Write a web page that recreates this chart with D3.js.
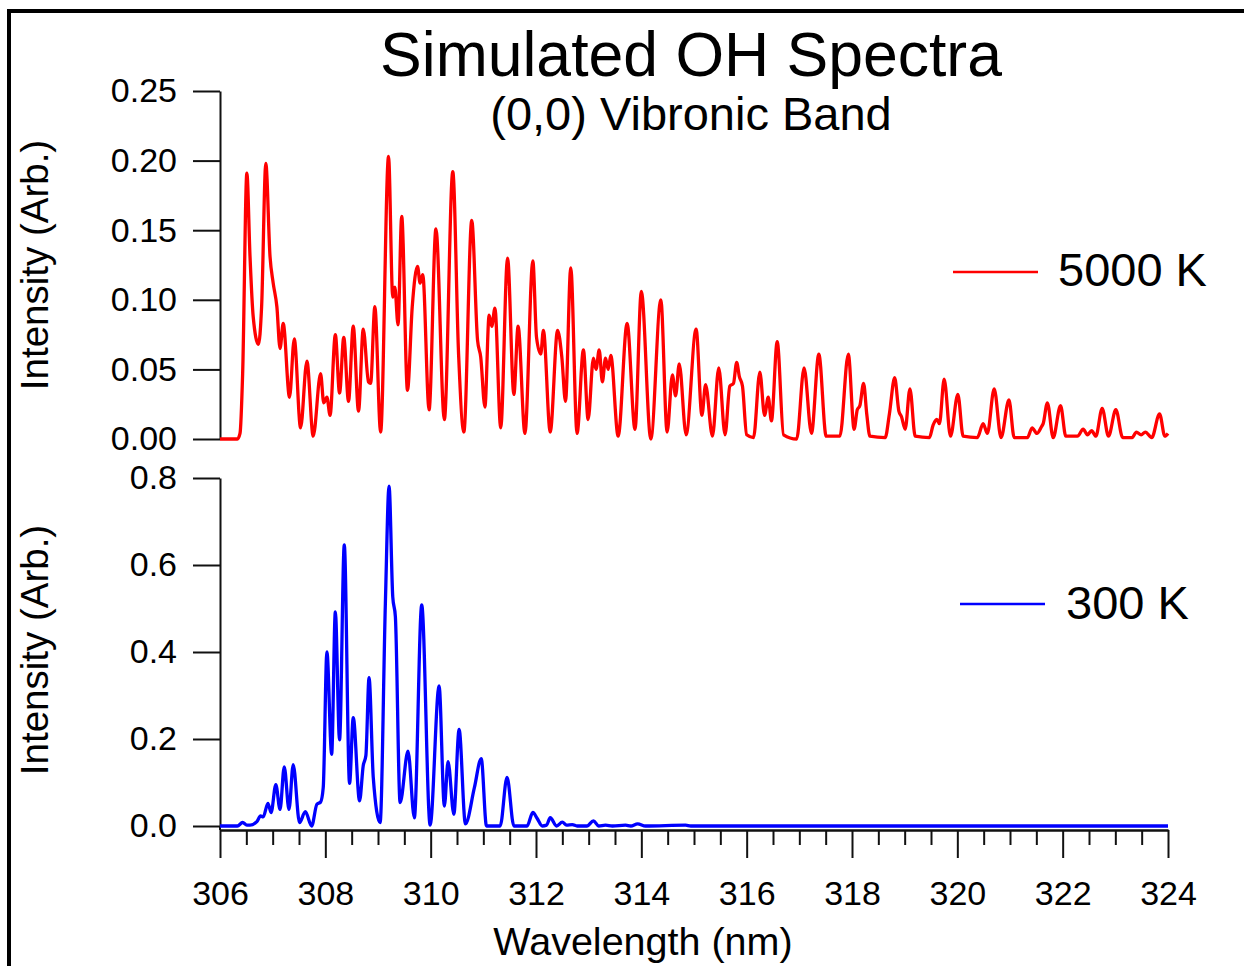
<!DOCTYPE html>
<html>
<head>
    <title>Simulated OH Spectra</title>
</head>
<body>
<style type="text/css">
    body {
        margin: 0;
        background: #fff;
    }

    #renderer {
        width: 1244px;
        height: 966px;
        background: #FFF;
        display: block;
    }

    text {
        font-family: "Liberation Sans", Arial, sans-serif;
    }
</style>
<script type="text/javascript" src="https://cdnjs.cloudflare.com/ajax/libs/d3/7.8.5/d3.min.js"></script>
<svg id='renderer'></svg>

<script type="text/javascript">
    // spectrum at 5000 K: [wavelength (nm), intensity] (peaks and valleys)
    var spectrum5000 = [
        [306.00, 0], [306.33, 0], [306.38, 0.004], [306.43, 0.047], [306.51, 0.191], [306.57, 0.131],
        [306.63, 0.088], [306.73, 0.068], [306.79, 0.095], [306.87, 0.198], [306.95, 0.131], [307.01, 0.112],
        [307.08, 0.095], [307.14, 0.065], [307.20, 0.083], [307.32, 0.030], [307.41, 0.072], [307.53, 0.008],
        [307.65, 0.056], [307.77, 0.002], [307.91, 0.047], [307.97, 0.026], [308.03, 0.030], [308.09, 0.017],
        [308.19, 0.075], [308.27, 0.033], [308.35, 0.073], [308.44, 0.027], [308.53, 0.081], [308.63, 0.020],
        [308.72, 0.079], [308.82, 0.041], [308.86, 0.040], [308.94, 0.095], [309.05, 0.005], [309.20, 0.203],
        [309.28, 0.102], [309.32, 0.109], [309.38, 0.082], [309.45, 0.160], [309.56, 0.035], [309.65, 0.095],
        [309.75, 0.124], [309.80, 0.112], [309.85, 0.118], [309.97, 0.021], [310.10, 0.151], [310.26, 0.014],
        [310.42, 0.192], [310.53, 0.061], [310.63, 0.005], [310.78, 0.157], [310.89, 0.071], [310.95, 0.059],
        [311.03, 0.023], [311.11, 0.089], [311.16, 0.081], [311.22, 0.094], [311.33, 0.008], [311.46, 0.130],
        [311.58, 0.032], [311.66, 0.081], [311.79, 0.004], [311.94, 0.128], [312.01, 0.073], [312.09, 0.061],
        [312.14, 0.078], [312.27, 0.005], [312.41, 0.078], [312.49, 0.059], [312.56, 0.027], [312.66, 0.123],
        [312.78, 0.004], [312.90, 0.064], [312.99, 0.014], [313.09, 0.058], [313.14, 0.050], [313.20, 0.064],
        [313.26, 0.041], [313.32, 0.058], [313.37, 0.050], [313.42, 0.060], [313.56, 0.002], [313.73, 0.083],
        [313.88, 0.007], [314.00, 0.106], [314.18, 0], [314.37, 0.100], [314.49, 0.005], [314.59, 0.046],
        [314.65, 0.031], [314.72, 0.054], [314.85, 0.003], [315.04, 0.079], [315.15, 0.017], [315.22, 0.039],
        [315.35, 0.002], [315.47, 0.051], [315.59, 0.003], [315.68, 0.038], [315.75, 0.040], [315.81, 0.055],
        [315.86, 0.045], [315.92, 0.038], [316.00, 0.003], [316.13, 0.001], [316.25, 0.048], [316.34, 0.017],
        [316.41, 0.030], [316.47, 0.013], [316.58, 0.070], [316.70, 0.003], [316.95, 0], [317.09, 0.051],
        [317.23, 0.004], [317.37, 0.061], [317.51, 0.002], [317.77, 0.002], [317.93, 0.061], [318.04, 0.007],
        [318.10, 0.021], [318.15, 0.024], [318.22, 0.040], [318.28, 0.018], [318.34, 0.002], [318.63, 0.001],
        [318.71, 0.018], [318.81, 0.044], [318.89, 0.020], [318.94, 0.016], [319.01, 0.007], [319.10, 0.036],
        [319.20, 0.002], [319.47, 0.001], [319.54, 0.010], [319.61, 0.014], [319.66, 0.011], [319.75, 0.043],
        [319.87, 0.002], [320.01, 0.032], [320.11, 0.002], [320.38, 0.001], [320.49, 0.011], [320.57, 0.004],
        [320.70, 0.036], [320.83, 0.001], [320.98, 0.028], [321.08, 0.001], [321.33, 0.001], [321.42, 0.008],
        [321.51, 0.004], [321.60, 0.009], [321.63, 0.011], [321.71, 0.026], [321.82, 0.001], [321.96, 0.024],
        [322.06, 0.002], [322.28, 0.002], [322.39, 0.007], [322.47, 0.003], [322.55, 0.006], [322.63, 0.002],
        [322.75, 0.022], [322.87, 0.002], [323.01, 0.021], [323.14, 0.001], [323.32, 0.001], [323.40, 0.005],
        [323.49, 0.003], [323.57, 0.005], [323.69, 0.001], [323.84, 0.018], [323.94, 0.002], [324.00, 0.004]
    ];

    // spectrum at 300 K
    var spectrum300 = [
        [306.00, 0], [306.33, 0], [306.43, 0.008], [306.51, 0.002], [306.57, 0.002], [306.70, 0.010],
        [306.77, 0.023], [306.82, 0.021], [306.91, 0.052], [306.97, 0.031], [307.06, 0.095], [307.14, 0.038],
        [307.22, 0.136], [307.31, 0.038], [307.39, 0.141], [307.51, 0.008], [307.62, 0.033], [307.74, 0],
        [307.84, 0.050], [307.91, 0.055], [307.96, 0.088], [308.03, 0.400], [308.12, 0.165], [308.19, 0.492],
        [308.27, 0.198], [308.36, 0.646], [308.46, 0.098], [308.53, 0.249], [308.65, 0.058], [308.72, 0.139],
        [308.77, 0.162], [308.83, 0.341], [308.91, 0.112], [309.04, 0.008], [309.14, 0.512], [309.21, 0.781],
        [309.28, 0.527], [309.33, 0.481], [309.42, 0.054], [309.57, 0.172], [309.69, 0.019], [309.83, 0.508],
        [309.99, 0.002], [310.16, 0.322], [310.26, 0.046], [310.33, 0.148], [310.44, 0.027], [310.54, 0.222],
        [310.66, 0.005], [310.83, 0.088], [310.96, 0.155], [311.06, 0], [311.32, 0], [311.45, 0.112],
        [311.58, 0], [311.83, 0], [311.94, 0.031], [312.02, 0.018], [312.12, 0], [312.20, 0.002],
        [312.27, 0.019], [312.39, 0], [312.50, 0.009], [312.58, 0.002], [312.69, 0.003], [312.78, 0],
        [312.97, 0], [313.09, 0.012], [313.19, 0], [313.32, 0.002], [313.45, 0], [313.70, 0.002],
        [313.80, 0], [313.93, 0.005], [314.08, 0], [314.84, 0.002], [314.94, 0], [324.00, 0]
    ];

    var xTicks = [306, 308, 310, 312, 314, 316, 318, 320, 322, 324];
    var yTicks5000 = [0, 0.05, 0.10, 0.15, 0.20, 0.25];
    var yTicks300 = [0, 0.2, 0.4, 0.6, 0.8];

    var root = d3.select('#renderer');

    var plotLeft = 220;
    var plotRight = 1168;
    var upperTop = 91;
    var upperBottom = 439;
    var lowerTop = 478;
    var lowerBottom = 826;
    var xAxisY = 830;
    var tickFont = 34;

    var x = d3.scaleLinear().domain([306, 324]).range([plotLeft, plotRight]);
    var yUpper = d3.scaleLinear().domain([0, 0.25]).range([upperBottom, upperTop]);
    var yLower = d3.scaleLinear().domain([0, 0.8]).range([lowerBottom, lowerTop]);

    // frame (only top and left edges show)
    root.append('line')
        .attr('x1', 9).attr('y1', 11).attr('x2', 1244).attr('y2', 11)
        .attr('stroke', '#000').attr('stroke-width', 4);
    root.append('line')
        .attr('x1', 9).attr('y1', 9).attr('x2', 9).attr('y2', 966)
        .attr('stroke', '#000').attr('stroke-width', 4);

    // titles
    root.append('text')
        .text('Simulated OH Spectra')
        .attr('x', 691)
        .attr('y', 76)
        .attr('font-size', 62.5)
        .attr('text-anchor', 'middle');

    root.append('text')
        .text('(0,0) Vibronic Band')
        .attr('x', 691)
        .attr('y', 130)
        .attr('font-size', 47)
        .attr('text-anchor', 'middle');

    function styleAxis(g) {
        g.attr('font-family', null).attr('font-size', null);
        g.selectAll('path.domain').attr('stroke', '#111').attr('stroke-width', 2);
        g.selectAll('.tick line').attr('stroke', '#111').attr('stroke-width', 2);
        g.selectAll('.tick text').attr('font-size', tickFont).attr('fill', '#000');
    }

    // left axes
    var upperAxis = root.append('g')
        .attr('transform', 'translate(' + plotLeft + ',0)')
        .call(d3.axisLeft(yUpper).tickValues(yTicks5000).tickFormat(d3.format('.2f'))
            .tickSize(27).tickSizeOuter(0).tickPadding(16));
    styleAxis(upperAxis);

    var lowerAxis = root.append('g')
        .attr('transform', 'translate(' + plotLeft + ',0)')
        .call(d3.axisLeft(yLower).tickValues(yTicks300).tickFormat(d3.format('.1f'))
            .tickSize(27).tickSizeOuter(0).tickPadding(16));
    styleAxis(lowerAxis);
    // left axis runs down to the wavelength axis
    root.append('line')
        .attr('x1', plotLeft).attr('x2', plotLeft)
        .attr('y1', lowerBottom).attr('y2', xAxisY)
        .attr('stroke', '#111').attr('stroke-width', 2);

    // wavelength axis, minor ticks every 0.5 nm
    var minorTicks = d3.range(306, 324.01, 0.5).filter(function (d) { return xTicks.indexOf(d) < 0; });
    var minorAxis = root.append('g')
        .attr('transform', 'translate(0,' + xAxisY + ')')
        .call(d3.axisBottom(x).tickValues(minorTicks).tickFormat('').tickSize(15).tickSizeOuter(0));
    styleAxis(minorAxis);

    var xAxis = root.append('g')
        .attr('transform', 'translate(0,' + xAxisY + ')')
        .call(d3.axisBottom(x).tickValues(xTicks).tickFormat(d3.format('d'))
            .tickSize(28).tickSizeOuter(0).tickPadding(23));
    styleAxis(xAxis);

    // axis titles
    root.append('text')
        .text('Intensity (Arb.)')
        .attr('transform', 'translate(48,265) rotate(-90)')
        .attr('font-size', 38.5)
        .attr('text-anchor', 'middle');

    root.append('text')
        .text('Intensity (Arb.)')
        .attr('transform', 'translate(48,650) rotate(-90)')
        .attr('font-size', 38.5)
        .attr('text-anchor', 'middle');

    root.append('text')
        .text('Wavelength (nm)')
        .attr('x', 643)
        .attr('y', 955)
        .attr('font-size', 39.5)
        .attr('text-anchor', 'middle');

    // traces
    var lineUpper = d3.line()
        .x(function (d) { return x(d[0]); })
        .y(function (d) { return yUpper(d[1]); })
        .curve(d3.curveMonotoneX);

    var lineLower = d3.line()
        .x(function (d) { return x(d[0]); })
        .y(function (d) { return yLower(d[1]); })
        .curve(d3.curveMonotoneX);

    root.append('path')
        .datum(spectrum5000)
        .attr('d', lineUpper)
        .attr('fill', 'none')
        .attr('stroke', '#ff0000')
        .attr('stroke-width', 3.3)
        .attr('stroke-linejoin', 'round');

    root.append('path')
        .datum(spectrum300)
        .attr('d', lineLower)
        .attr('fill', 'none')
        .attr('stroke', '#0000ff')
        .attr('stroke-width', 3.3)
        .attr('stroke-linejoin', 'round');

    // legends
    root.append('line')
        .attr('x1', 953).attr('x2', 1038).attr('y1', 272).attr('y2', 272)
        .attr('stroke', '#ff0000').attr('stroke-width', 2.5);
    root.append('text')
        .text('5000 K')
        .attr('x', 1058)
        .attr('y', 286)
        .attr('font-size', 47);

    root.append('line')
        .attr('x1', 960).attr('x2', 1045).attr('y1', 604).attr('y2', 604)
        .attr('stroke', '#0000ff').attr('stroke-width', 2.5);
    root.append('text')
        .text('300 K')
        .attr('x', 1066)
        .attr('y', 619)
        .attr('font-size', 47);
</script>
</body>
</html>
